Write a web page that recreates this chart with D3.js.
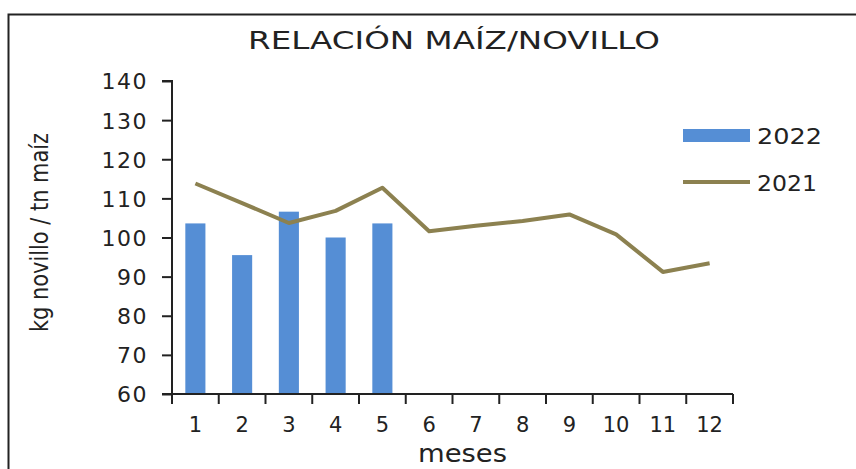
<!DOCTYPE html>
<html><head><meta charset="utf-8">
<script src="https://cdn.jsdelivr.net/npm/d3@7"></script>
<style>body{margin:0;background:#fff}text{font-family:"DejaVu Sans",sans-serif;fill:#222}</style>
</head><body><svg id="c" width="856" height="469"></svg>
<script>
const months = [1,2,3,4,5,6,7,8,9,10,11,12];
const monthLabels = ["1","2","3","4","5","6","7","8","9","10","11","12"];
const values2022 = [103.6,95.5,106.6,100.0,103.6];
const values2021 = [113.8,108.8,103.7,106.8,112.7,101.6,103.0,104.2,105.9,100.8,91.2,93.4];
const yTicks = [60,70,80,90,100,110,120,130,140];
const title = "RELACIÓN MAÍZ/NOVILLO";
const yLabel = "kg novillo / tn maíz";
const xLabel = "meses";
const seriesNames = ["2022","2021"];
const colors = {"2022":"#558ed5","2021":"#8c8150"};

const svg = d3.select("#c");
svg.append("rect").attr("x",8.5).attr("y",14.5).attr("width",900).attr("height",500)
  .attr("fill","none").attr("stroke","#222").attr("stroke-width",2);

const x = d3.scaleBand().domain(months).range([172,733]).padding(0);
const y = d3.scaleLinear().domain([60,140]).range([394,81]);

// bars
const bw = x.bandwidth()*0.43;
svg.append("g").selectAll("rect").data(values2022).join("rect")
  .attr("x",(d,i)=>x(months[i])+x.bandwidth()/2-bw/2)
  .attr("y",d=>y(d)).attr("width",bw).attr("height",d=>y(60)-y(d))
  .attr("fill",colors["2022"]);

// line
const line = d3.line().x((d,i)=>x(months[i])+x.bandwidth()/2).y(d=>y(d));
svg.append("path").datum(values2021).attr("d",line).attr("fill","none")
  .attr("stroke",colors["2021"]).attr("stroke-width",4).attr("stroke-linejoin","round");

// y axis
const ya = svg.append("g").attr("transform","translate(172,0)")
  .call(d3.axisLeft(y).tickValues(yTicks).tickSize(10).tickPadding(8).tickFormat(d3.format("d")));
ya.select(".domain").attr("stroke","#222").attr("stroke-width",2).attr("d","M-10,81H0V402");
ya.selectAll(".tick line").attr("stroke","#222").attr("stroke-width",2);
ya.selectAll(".tick text").style("font-size","22px").attr("fill","#222")
  .attr("letter-spacing","1.5").attr("x",-24).attr("dy","0.36em");

// x axis
const xa = svg.append("g").attr("transform","translate(0,394)");
xa.append("line").attr("x1",162).attr("x2",733).attr("y1",0).attr("y2",0).attr("stroke","#222").attr("stroke-width",2);
const edges = months.map(m=>x(m)).concat([x(12)+x.bandwidth()]);
xa.selectAll("line.t").data(edges).join("line").attr("class","t")
  .attr("x1",d=>d).attr("x2",d=>d).attr("y1",0).attr("y2",10).attr("stroke","#222").attr("stroke-width",2);
xa.selectAll("text").data(monthLabels).join("text")
  .attr("x",(d,i)=>x(months[i])+x.bandwidth()/2).attr("y",38)
  .attr("text-anchor","middle").style("font-size","21px").text(d=>d);

// titles
svg.append("text").attr("x",248).attr("y",49)
  .style("font-size","25px").attr("textLength",412).attr("lengthAdjust","spacingAndGlyphs").text(title);
svg.append("text").attr("transform","translate(48,332) rotate(-90)")
  .style("font-size","24px").attr("textLength",199).attr("lengthAdjust","spacingAndGlyphs").text(yLabel);
svg.append("text").attr("x",418).attr("y",462)
  .style("font-size","25px").attr("textLength",89).attr("lengthAdjust","spacingAndGlyphs").text(xLabel);

// legend
const lg = svg.append("g");
lg.append("rect").attr("x",683).attr("y",129).attr("width",67).attr("height",13).attr("fill",colors["2022"]);
lg.append("text").attr("x",757).attr("y",144).style("font-size","22px")
  .attr("textLength",65).attr("lengthAdjust","spacingAndGlyphs").text(seriesNames[0]);
lg.append("line").attr("x1",683).attr("x2",750).attr("y1",182).attr("y2",182)
  .attr("stroke",colors["2021"]).attr("stroke-width",4);
lg.append("text").attr("x",757).attr("y",191).style("font-size","22px")
  .attr("textLength",60).attr("lengthAdjust","spacingAndGlyphs").text(seriesNames[1]);
</script></body></html>
